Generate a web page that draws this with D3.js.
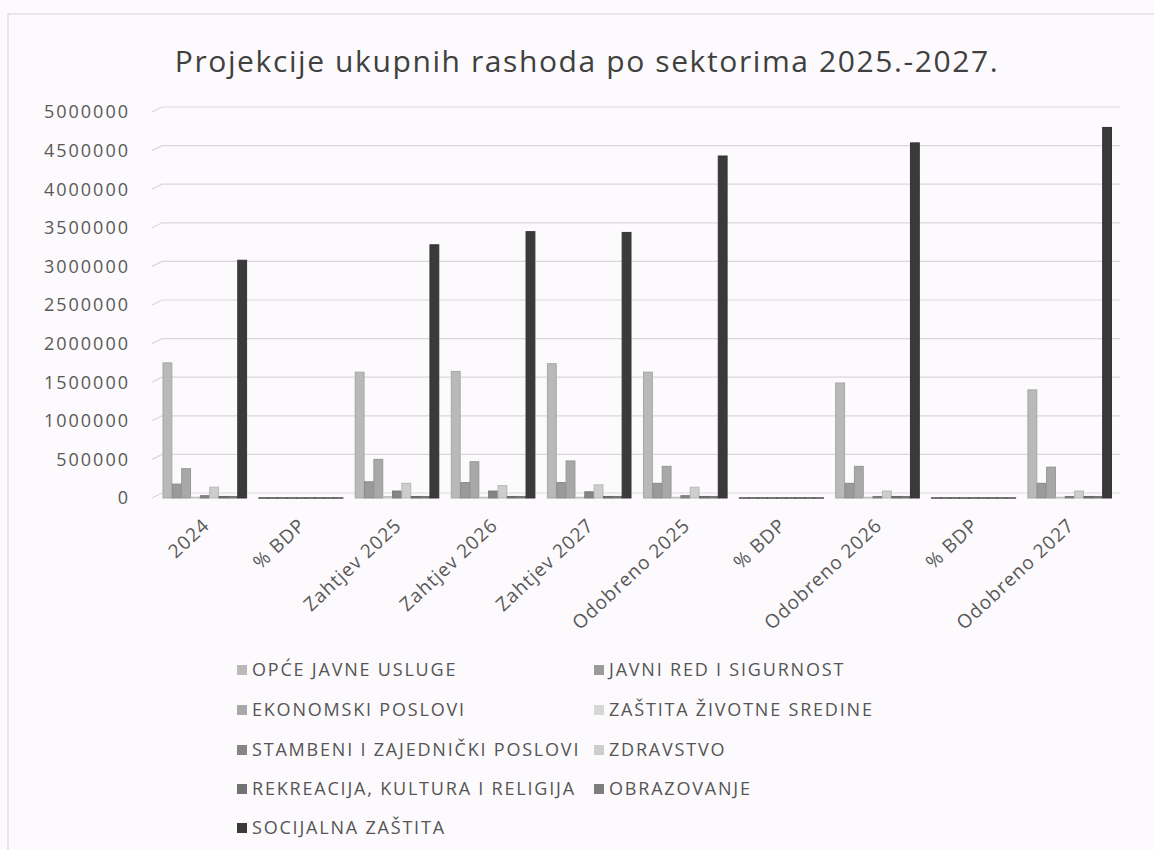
<!DOCTYPE html>
<html><head><meta charset="utf-8">
<script src="https://cdn.jsdelivr.net/npm/d3@7/dist/d3.min.js"></script>
<style>
html,body{margin:0;padding:0;background:#fcfafc;}
text{font-family:"Open Sans",sans-serif;}
</style></head>
<body><svg id="chart" width="1154" height="850"></svg>
<script>
const categories = ["2024","% BDP","Zahtjev 2025","Zahtjev 2026","Zahtjev 2027","Odobreno 2025","% BDP","Odobreno 2026","% BDP","Odobreno 2027"];
const seriesNames = ["OPĆE JAVNE USLUGE","JAVNI RED I SIGURNOST","EKONOMSKI POSLOVI","ZAŠTITA ŽIVOTNE SREDINE","STAMBENI I ZAJEDNIČKI POSLOVI","ZDRAVSTVO","REKREACIJA, KULTURA I RELIGIJA","OBRAZOVANJE","SOCIJALNA ZAŠTITA"];
const opceJavneUsluge   = [1750000, 20, 1630000, 1640000, 1740000, 1630000, 18, 1490000, 17, 1400000];
const javniRed          = [180000, 2, 210000, 200000, 200000, 190000, 2, 190000, 2, 190000];
const ekonomskiPoslovi  = [380000, 4, 500000, 470000, 480000, 410000, 4, 410000, 4, 400000];
const zastitaSredine    = [10000, 0.2, 20000, 10000, 10000, 10000, 0.2, 10000, 0.2, 10000];
const stambeniPoslovi   = [30000, 0.5, 90000, 90000, 80000, 30000, 0.3, 20000, 0.3, 20000];
const zdravstvo         = [140000, 1.5, 190000, 160000, 170000, 140000, 1.3, 90000, 1.2, 90000];
const rekreacija        = [20000, 0.3, 20000, 20000, 20000, 20000, 0.2, 20000, 0.2, 20000];
const obrazovanje       = [20000, 0.3, 20000, 20000, 20000, 20000, 0.2, 20000, 0.2, 20000];
const socijalnaZastita  = [3080000, 37, 3280000, 3450000, 3440000, 4430000, 39, 4600000, 38, 4800000];
const yTicks = [0,500000,1000000,1500000,2000000,2500000,3000000,3500000,4000000,4500000,5000000];
const title = "Projekcije ukupnih rashoda po sektorima 2025.-2027.";

const seriesValues = [opceJavneUsluge, javniRed, ekonomskiPoslovi, zastitaSredine, stambeniPoslovi, zdravstvo, rekreacija, obrazovanje, socijalnaZastita];
const colors = ["#b9b9b9","#9a9a9a","#a8a8a8","#d6d6d6","#858585","#cdcdcd","#727272","#7e7e7e","#3a3a3a"];

const svg = d3.select("#chart");
svg.append("path").attr("d","M8,850 L8,14 L1154,14").attr("fill","none").attr("stroke","#e2dfe2").attr("stroke-width",1.5);

svg.append("text").attr("x",587).attr("y",72).attr("text-anchor","middle")
  .attr("font-size",30).attr("fill","#404040").attr("letter-spacing",1.6).text(title);

const y = d3.scaleLinear().domain([0,5000000]).range([498,112]);
const x0 = d3.scaleBand().domain(d3.range(categories.length)).range([157,1118]).paddingInner(0.125).paddingOuter(0.0625);
const x1 = d3.scaleBand().domain(d3.range(seriesNames.length)).range([0,x0.bandwidth()]);

const grid = svg.append("g");
yTicks.forEach(v=>{
  const yy = y(v);
  grid.append("path").attr("d",`M152,${yy} L162,${yy-5} L1120,${yy-5}`)
    .attr("fill","none").attr("stroke","#d9d7d9").attr("stroke-width",1.2);
});

svg.append("g").selectAll("text").data(yTicks).join("text")
  .attr("x",130).attr("y",d=>y(d)).attr("dy","0.36em").attr("text-anchor","end")
  .attr("font-size",18).attr("letter-spacing",2).attr("fill","#595959").text(d=>d3.format("d")(d));

const groups = svg.append("g").selectAll("g").data(categories).join("g")
  .attr("transform",(d,i)=>`translate(${x0(i)},0)`);
groups.selectAll("rect").data((d,i)=>seriesValues.map((s,k)=>({k,v:s[i]}))).join("rect")
  .attr("x",d=>x1(d.k)).attr("width",x1.bandwidth()-0.5)
  .attr("y",d=>y(d.v)).attr("height",d=>y(0)-y(d.v))
  .attr("fill",d=>colors[d.k]).attr("stroke",d=>d.v<100?"#4a4a4a":d3.color(colors[d.k]).darker(0.3))
  .attr("stroke-width",d=>d.v<100?1.5:1);

svg.append("g").selectAll("text").data(categories).join("text")
  .attr("transform",(d,i)=>`translate(${x0(i)+x0.bandwidth()/2+1},${522}) rotate(-43)`)
  .attr("text-anchor","end").attr("dy","0.35em")
  .attr("font-size",19).attr("letter-spacing",1).attr("fill","#595959").text(d=>d);

const legend = svg.append("g");
seriesNames.forEach((name,k)=>{
  const col = k%2, row = Math.floor(k/2);
  const lx = col===0?237:594, ly = [670,710,750,789,828][row];
  legend.append("rect").attr("x",lx).attr("y",ly-5).attr("width",10).attr("height",10).attr("fill",colors[k]);
  legend.append("text").attr("x",lx+15).attr("y",ly).attr("dy","0.36em")
    .attr("font-size",18).attr("letter-spacing",1.8).attr("fill","#555").text(name);
});
</script></body></html>
